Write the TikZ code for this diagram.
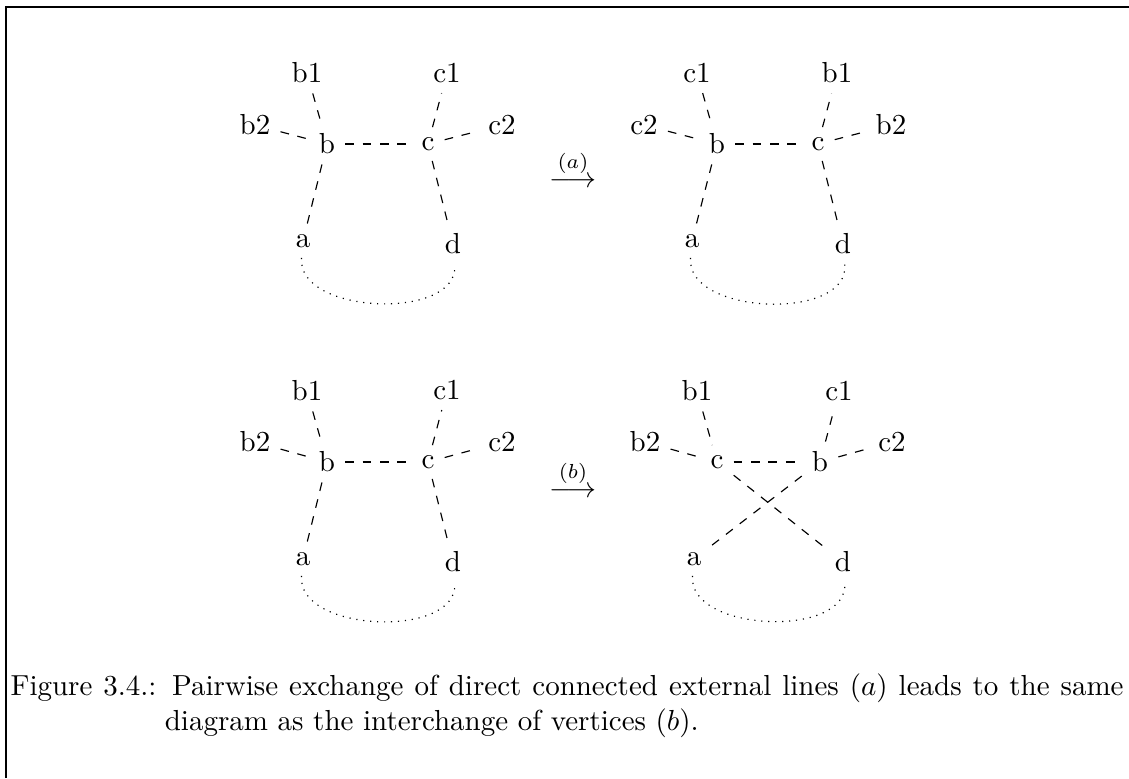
\documentclass[tikz,border=0pt]{standalone}
\begin{document}
\begin{tikzpicture}[x=0.345pt,y=-0.345pt,
  lbl/.style={inner sep=3.33pt},
  extline/.style={dashed},
  loopline/.style={dotted},
  frameline/.style={line width=0.4pt},
  arrowlbl/.style={anchor=base,inner sep=0pt},
  captionstyle/.style={anchor=north west,text width=384pt,inner sep=0pt,align=justify}]
\useasboundingbox (0,0) rectangle (1129,778);
\draw[frameline] (6,778) -- (6,7) -- (1129,7);

% ---------- top left
\node[lbl] (A-L) at (327,144) {b};
\node[lbl] (A-R) at (428,144) {c};
\node[lbl] (A-LT) at (307,73) {b1};
\node[lbl] (A-LS) at (255,125) {b2};
\node[lbl] (A-RT) at (447,73) {c1};
\node[lbl] (A-RS) at (502,125) {c2};
\node[lbl] (A-a) at (303,241) {a};
\node[lbl] (A-d) at (453,244) {d};
\draw[extline] (A-LT) -- (A-L);
\draw[extline] (A-LS) -- (A-L);
\draw[extline] (A-L) -- (A-R);
\draw[extline] (A-R) -- (A-RT);
\draw[extline] (A-R) -- (A-RS);
\draw[extline] (A-L) -- (A-a);
\draw[extline] (A-R) -- (A-d);
\draw[loopline] (A-a) to[out=-95,in=-85,looseness=0.95] (A-d);

% ---------- top right
\node[lbl] (B-L) at (717,144) {b};
\node[lbl] (B-R) at (818,144) {c};
\node[lbl] (B-LT) at (697,73) {c1};
\node[lbl] (B-LS) at (644,125) {c2};
\node[lbl] (B-RT) at (837,73) {b1};
\node[lbl] (B-RS) at (891,125) {b2};
\node[lbl] (B-a) at (692,241) {a};
\node[lbl] (B-d) at (843,244) {d};
\draw[extline] (B-LT) -- (B-L);
\draw[extline] (B-LS) -- (B-L);
\draw[extline] (B-L) -- (B-R);
\draw[extline] (B-R) -- (B-RT);
\draw[extline] (B-R) -- (B-RS);
\draw[extline] (B-L) -- (B-a);
\draw[extline] (B-R) -- (B-d);
\draw[loopline] (B-a) to[out=-95,in=-85,looseness=0.95] (B-d);

% ---------- bottom left
\node[lbl] (C-L) at (327,462) {b};
\node[lbl] (C-R) at (428,462) {c};
\node[lbl] (C-LT) at (307,391) {b1};
\node[lbl] (C-LS) at (255,442) {b2};
\node[lbl] (C-RT) at (447,390) {c1};
\node[lbl] (C-RS) at (502,442) {c2};
\node[lbl] (C-a) at (303,559) {a};
\node[lbl] (C-d) at (453,562) {d};
\draw[extline] (C-LT) -- (C-L);
\draw[extline] (C-LS) -- (C-L);
\draw[extline] (C-L) -- (C-R);
\draw[extline] (C-R) -- (C-RT);
\draw[extline] (C-R) -- (C-RS);
\draw[extline] (C-L) -- (C-a);
\draw[extline] (C-R) -- (C-d);
\draw[loopline] (C-a) to[out=-95,in=-85,looseness=0.95] (C-d);

% ---------- bottom right
\node[lbl] (D-L) at (717,462) {c};
\node[lbl] (D-R) at (820,462) {b};
\node[lbl] (D-LT) at (697,391) {b1};
\node[lbl] (D-LS) at (645,442) {b2};
\node[lbl] (D-RT) at (839,391) {c1};
\node[lbl] (D-RS) at (892,442) {c2};
\node[lbl] (D-a) at (694,559) {a};
\node[lbl] (D-d) at (843,562) {d};
\draw[extline] (D-LT) -- (D-L);
\draw[extline] (D-LS) -- (D-L);
\draw[extline] (D-L) -- (D-R);
\draw[extline] (D-R) -- (D-RT);
\draw[extline] (D-R) -- (D-RS);
\draw[extline] (D-L) -- (D-d);
\draw[extline] (D-R) -- (D-a);
\draw[loopline] (D-a) to[out=-95,in=-85,looseness=0.95] (D-d);

% ---------- arrows
\node[arrowlbl] (arrA) at (573,187) {$\stackrel{(a)}{\longrightarrow}$};
\node[arrowlbl] (arrB) at (573,497) {$\stackrel{(b)}{\longrightarrow}$};

% ---------- caption
\node[captionstyle] (cap) at (10,673) {\noindent\setbox0=\hbox{Figure 3.4.:\ }\hangindent=\wd0 \hangafter=1 Figure 3.4.: Pairwise exchange of direct connected external lines $(a)$ leads to the same\linebreak diagram as the interchange of vertices $(b)$.\par};
\end{tikzpicture}
\end{document}
